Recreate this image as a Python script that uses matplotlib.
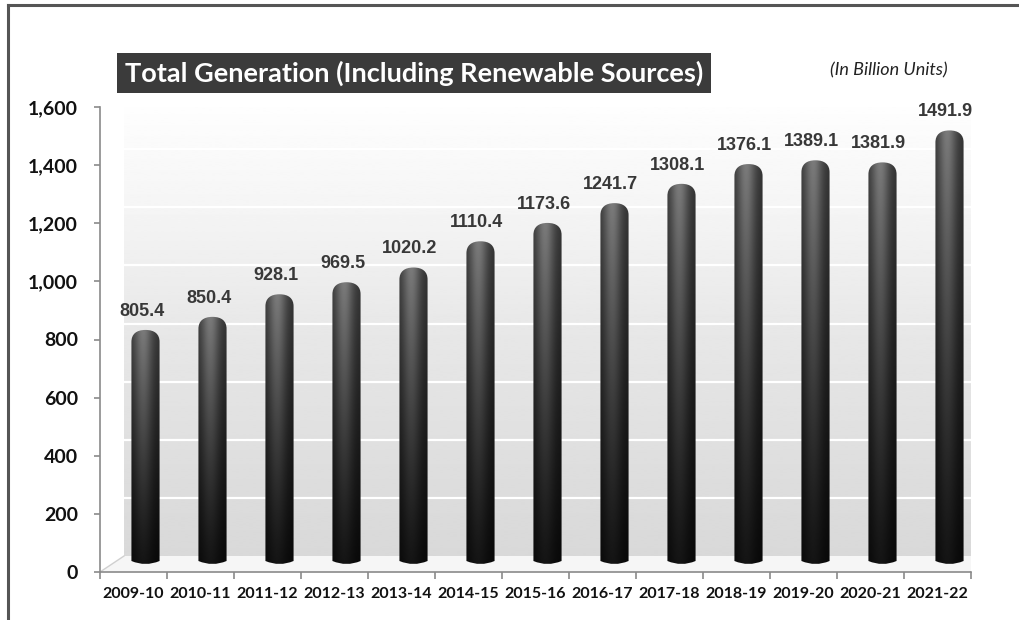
import numpy as np
import matplotlib.pyplot as plt
from matplotlib.path import Path
from matplotlib.patches import PathPatch, Polygon
from matplotlib.lines import Line2D
from matplotlib.transforms import ScaledTranslation, IdentityTransform

years = ['2009-10', '2010-11', '2011-12', '2012-13', '2013-14', '2014-15', '2015-16',
         '2016-17', '2017-18', '2018-19', '2019-20', '2020-21', '2021-22']
generation = [805.4, 850.4, 928.1, 969.5, 1020.2, 1110.4, 1173.6,
              1241.7, 1308.1, 1376.1, 1389.1, 1381.9, 1491.9]
y_ticks = [0, 200, 400, 600, 800, 1000, 1200, 1400, 1600]
y_labels = ['0', '200', '400', '600', '800', '1,000', '1,200', '1,400', '1,600']

W, H = 1019, 620
fig = plt.figure(figsize=(W / 100, H / 100), dpi=100)
fig.patch.set_facecolor('white')

# front plane of the pseudo-3d chart
ax = fig.add_axes([100 / W, (H - 572) / H, 871 / W, 465 / H])
ax.set_facecolor('none')
n = len(years)
ax.set_xlim(-0.5, n - 0.5)
ax.set_ylim(0, 1600)

def shift(dx, dy):
    return ax.transData + ScaledTranslation(dx / fig.dpi, dy / fig.dpi, fig.dpi_scale_trans)

wall_tr = shift(24, 16)
bar_tr = shift(12, 8)

# back wall with vertical gradient and white gridlines
grad = np.interp(np.linspace(0, 1600, 256), [0, 300, 800, 1200, 1600], [0.85, 0.87, 0.91, 0.96, 1.0])
ax.imshow(grad[:, None], cmap='gray', vmin=0, vmax=1, origin='lower', aspect='auto',
          extent=(-0.5, n - 0.5, 0, 1600), transform=wall_tr, zorder=0, interpolation='bilinear')
ax.hlines(y_ticks[1:-1], -0.5, n - 0.5, colors='white', lw=1.6, transform=wall_tr, zorder=1)

# floor
p0 = ax.transData.transform((-0.5, 0))
p1 = ax.transData.transform((n - 0.5, 0))
off = np.array([24, 16])
floor = Polygon([p0, p1, p1 + off, p0 + off], closed=True, transform=IdentityTransform(),
                facecolor='#f6f6f6', edgecolor='none', zorder=0.5)
ax.add_patch(floor)
ax.add_line(Line2D([p1[0], p1[0] + off[0]], [p1[1], p1[1] + off[1]], transform=IdentityTransform(),
                   color='#8c8c8c', lw=1.2, zorder=2))
ax.add_line(Line2D([p0[0], p0[0] + off[0]], [p0[1], p0[1] + off[1]], transform=IdentityTransform(),
                   color='#d0d0d0', lw=1.0, zorder=2))

# cylinder bars
bw = 0.42
px_per_unit = 465 / 1600
cap = 12 / px_per_unit
bot = 3 / px_per_unit
k = 0.65
xs = np.linspace(0, 1, 60)
h_prof = 0.42 + 0.58 * np.exp(-((xs - 0.42) / 0.32) ** 2)
ys = np.linspace(0, 1, 200)
v_prof = 0.08 + 0.40 * ys ** 1.2

for i, v in enumerate(generation):
    x0, x1 = i - bw / 2, i + bw / 2
    r = bw / 2
    verts = [(x0, bot), (i, -bot), (x1, bot),
             (x1, v - cap),
             (x1, v - cap + k * cap), (i + k * r, v), (i, v),
             (i - k * r, v), (x0, v - cap + k * cap), (x0, v - cap),
             (x0, bot)]
    codes = [Path.MOVETO, Path.CURVE3, Path.CURVE3,
             Path.LINETO,
             Path.CURVE4, Path.CURVE4, Path.CURVE4,
             Path.CURVE4, Path.CURVE4, Path.CURVE4,
             Path.CLOSEPOLY]
    patch = PathPatch(Path(verts, codes), transform=bar_tr, facecolor='none', edgecolor='none', zorder=3)
    ax.add_patch(patch)
    shade = v_prof[:, None] * h_prof[None, :]
    im = ax.imshow(shade, cmap='gray', vmin=0, vmax=1, origin='lower', aspect='auto',
                   extent=(x0, x1, -bot, v), transform=bar_tr, zorder=3, interpolation='bilinear')
    im.set_clip_path(patch)
    ax.annotate(f'{v:.1f}', (i, v), xytext=(6, 13), textcoords='offset points',
                ha='center', va='bottom', fontsize=13, fontweight='bold', color='#383838',
                family='Liberation Sans', zorder=5)

ax.set_xlim(-0.5, n - 0.5)
ax.set_ylim(0, 1600)

# axes styling
for s in ['top', 'right']:
    ax.spines[s].set_visible(False)
for s in ['left', 'bottom']:
    ax.spines[s].set_color('#8a8a8a')
    ax.spines[s].set_linewidth(1.2)
ax.set_yticks(y_ticks, labels=y_labels, fontfamily='Lato', fontweight='bold', fontsize=14, color='#111111')
ax.set_xticks(np.arange(-0.5, n, 1.0), labels=[''] * (n + 1))
ax.set_xticks(np.arange(n), labels=years, minor=True, fontfamily='Lato', fontweight='bold',
              fontsize=11.5, color='#111111')
ax.tick_params(axis='x', which='major', length=5, color='#8a8a8a', width=1.2)
ax.tick_params(axis='x', which='minor', length=0, pad=11)
ax.tick_params(axis='y', length=4, color='#8a8a8a', width=1.2, pad=12)

# title block and unit note
fig.text(125 / W, (H - 73) / H, 'Total Generation (Including Renewable Sources)', ha='left', va='center',
         fontsize=19.5, fontweight='bold', color='white', family='Lato',
         bbox=dict(facecolor='#3b3b3b', edgecolor='none', boxstyle='square,pad=0.28'))
fig.text(889 / W, (H - 70) / H, '(In Billion Units)', ha='center', va='center',
         fontsize=13, style='italic', color='#222222', family='Lato')

# frame lines of the original picture
fig.add_artist(Line2D([8 / W, 8 / W], [0, (H - 5) / H], transform=fig.transFigure, color='#555555', lw=2.2))
fig.add_artist(Line2D([8 / W, 1], [(H - 5) / H, (H - 5) / H], transform=fig.transFigure, color='#555555', lw=2.2))

fig.savefig('out.png', dpi=100)
